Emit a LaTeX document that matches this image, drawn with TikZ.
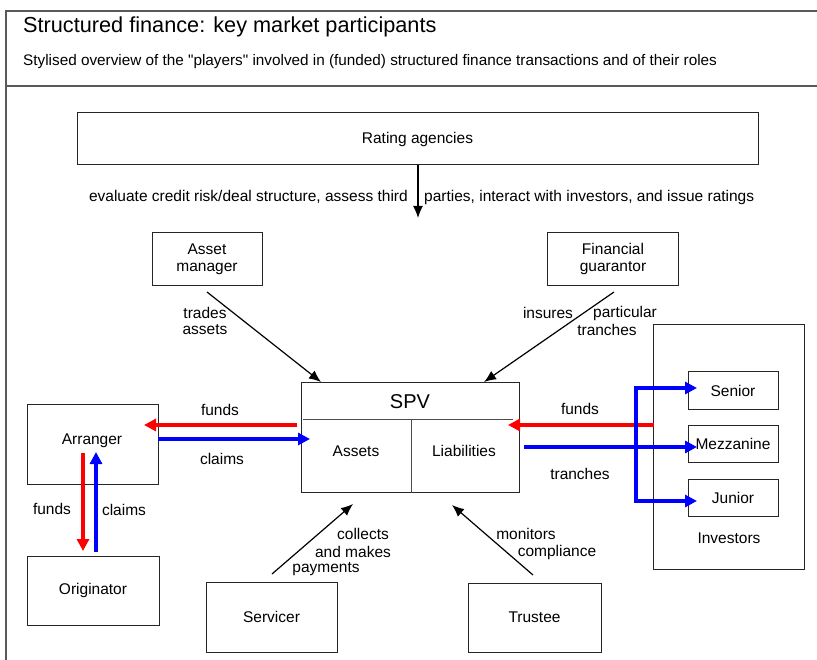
\documentclass[tikz,border=0pt]{standalone}
\usepackage{fontspec}
\setmainfont{Liberation Sans}
\usetikzlibrary{arrows.meta}
\newcommand\fsz[1]{\fontsize{#1}{17}\selectfont}
\newcommand\sq{\XeTeXglyph\XeTeXglyphindex "quotedbl"\relax}
\begin{document}
\begin{tikzpicture}[x=1pt,y=-1pt,
  box/.style={draw=black!85, line width=1pt, inner sep=0pt, align=center, font=\fsz{15.5}},
  lbl/.style={inner sep=0pt, font=\fsz{15.5}, align=center},
  blk/.style={draw=black, line width=1.2pt, -{Latex[length=12pt,width=10pt]}},
  redar/.style={draw=red, line width=3.5pt, -{Triangle[length=12pt,width=12pt]}},
  bluar/.style={draw=blue, line width=3.5pt, -{Triangle[length=12pt,width=12pt]}},
  frame/.style={draw=black!65, line width=1.5pt}
]
\useasboundingbox[fill=white] (0,0) rectangle (817,660);
% frame
\draw[frame] (817,11) -- (6,11) -- (6,660);
\draw[frame] (6,86) -- (817,86);
\node[anchor=west, inner sep=0pt, font=\fsz{21.7}] (title) at (23,27) {Structured finance: key market participants};
\node[anchor=west, inner sep=0pt, font=\fsz{15.3}] (sub) at (23,62) {Stylised overview of the \sq players\sq\ involved in (funded) structured finance transactions and of their roles};

% rating agencies
\node[box, minimum width=681pt, minimum height=52pt] (rat) at (417.5,139) {Rating agencies};
\coordinate (ratend) at (418,218);
\draw[blk] (rat.south -| ratend) -- (ratend);
\node[lbl, anchor=east] (evl) at (408,197) {evaluate credit risk/deal structure, assess third};
\node[lbl, anchor=west] (evr) at (424,197) {parties, interact with investors, and issue ratings};

% asset manager / financial guarantor
\node[box, minimum width=110pt, minimum height=53pt] (am) at (207,259) {Asset\\manager};
\node[box, minimum width=131pt, minimum height=53pt] (fg) at (613,259) {Financial\\guarantor};

% SPV
\node[box, minimum width=218pt, minimum height=110pt] (spv) at (410,437.5) {};
\node[lbl, font=\fsz{20}] (spvt) at (410,402) {SPV};
\draw[draw=black!70, line width=1pt] (303,419) -- (513,419);
\draw[draw=black!70, line width=1pt] (411,419) -- (spv.south -| 411,0);
\node[lbl] (ass) at (356,451) {Assets};
\node[lbl] (lia) at (464,451) {Liabilities};

% arrows into SPV from top
\coordinate (amS) at (207,292);
\coordinate (amE) at (321,382);
\draw[blk] (amS) -- (amE);
\node[lbl] (trd) at (205,313) {trades};
\node[lbl] (tas) at (205,330) {assets};
\coordinate (fgS) at (614,292);
\coordinate (fgE) at (484,382);
\draw[blk] (fgS) -- (fgE);
\node[lbl] (ins) at (548,313) {insures};
\node[lbl] (par) at (625,313) {particular};
\node[lbl] (trn) at (607,330) {tranches};

% arranger / originator
\node[box, minimum width=131pt, minimum height=80pt] (arr) at (92.5,444) {};
\node[lbl] (arrt) at (92,441) {Arranger};
\node[box, minimum width=132pt, minimum height=69pt] (ori) at (93,590.5) {Originator};

\coordinate (rf1) at (297,425);
\coordinate (rf2) at (144,425);
\draw[redar] (rf1) -- (rf2);
\node[lbl] (f1) at (220,410) {funds};
\coordinate (bc1) at (158,439);
\coordinate (bc2) at (310,439);
\draw[bluar] (bc1) -- (bc2);
\node[lbl] (c1) at (222,459) {claims};

\coordinate (rv1) at (83,453);
\coordinate (rv2) at (83,551);
\draw[redar] (rv1) -- (rv2);
\node[lbl] (f2) at (52,509) {funds};
\coordinate (bv1) at (96,552);
\coordinate (bv2) at (96,452);
\draw[bluar] (bv1) -- (bv2);
\node[lbl] (c2) at (124,510) {claims};

% servicer / trustee
\node[box, minimum width=131pt, minimum height=70pt] (ser) at (271.5,617) {Servicer};
\node[box, minimum width=133pt, minimum height=69pt] (tru) at (534.5,617.5) {Trustee};
\coordinate (seS) at (272,574);
\coordinate (seE) at (353,504);
\draw[blk] (seS) -- (seE);
\node[lbl] (col) at (363,534) {collects};
\node[lbl] (amk) at (353,552) {and makes};
\node[lbl] (pay) at (326,569) {payments};
\coordinate (trS) at (533,575);
\coordinate (trE) at (452,505);
\draw[blk] (trS) -- (trE);
\node[lbl] (mon) at (526,534) {monitors};
\node[lbl] (cmp) at (557,552) {compliance};

% investors
\node[box, minimum width=151pt, minimum height=244pt] (inv) at (729,447) {};
\node[lbl] (invt) at (729,538) {Investors};
\node[box, minimum width=90pt, minimum height=37pt] (sen) at (733,390.5) {Senior};
\node[box, minimum width=90pt, minimum height=37pt] (mez) at (733,443.5) {Mezzanine};
\node[box, minimum width=90pt, minimum height=37pt] (jun) at (733,497.5) {Junior};

\coordinate (rf3) at (654,425);
\coordinate (rf4) at (508,425);
\draw[redar] (rf3) -- (rf4);
\node[lbl] (f3) at (580,409) {funds};
\coordinate (bt1) at (524,447);
\coordinate (bt2) at (697,447);
\draw[bluar] (bt1) -- (bt2);
\node[lbl] (tr2) at (580,474) {tranches};
\coordinate (bk1) at (636,388);
\coordinate (bk2) at (636,501);
\draw[bluar] (bk2) -- (bk1) -- (bk1 -| 697,0);
\draw[bluar, line cap=butt] (bk1) -- (bk2) -- (bk2 -| 697,0);
\end{tikzpicture}
\end{document}
